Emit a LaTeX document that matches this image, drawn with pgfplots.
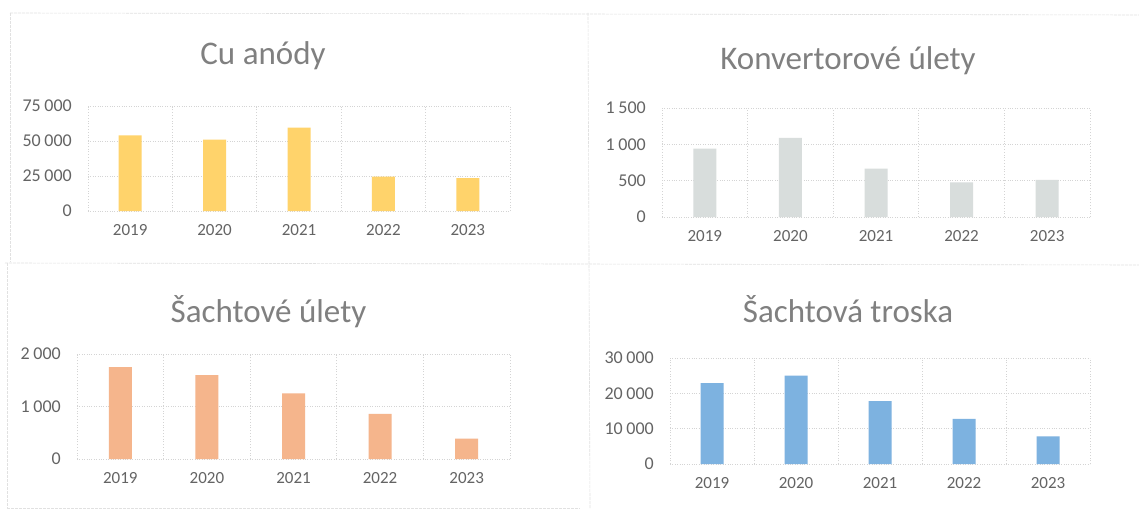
\documentclass[border=0pt]{standalone}
\usepackage{pgfplots}
\pgfplotsset{compat=1.18}
\usepackage{fontspec}
\setmainfont{Carlito}
\definecolor{cuy}{RGB}{255,211,107}
\definecolor{kgr}{RGB}{216,221,220}
\definecolor{sor}{RGB}{245,181,140}
\definecolor{tbl}{RGB}{125,178,224}
\definecolor{txt}{RGB}{100,100,100}
\definecolor{ttl}{RGB}{128,128,128}
\definecolor{grd}{RGB}{212,212,212}
\pgfplotsset{
  panel/.style={
    scale only axis,
    xmin=-0.5, xmax=4.5,
    ymin=0,
    xtick={0,1,2,3,4},
    xticklabels={2019,2020,2021,2022,2023},
    minor xtick={-0.5,0.5,1.5,2.5,3.5,4.5},
    xminorgrids=true, ymajorgrids=true,
    grid style={grd, dotted, line width=0.8pt},
    minor grid style={grd, dotted, line width=0.8pt},
    major tick length=0pt, minor tick length=0pt,
    axis line style={draw=none},
    xticklabel style={font=\fontsize{17}{20}\selectfont, text=txt},
    yticklabel style={font=\fontsize{18}{21}\selectfont, text=txt},
    /pgf/number format/.cd, 1000 sep={\hspace{0.2em}}, assume math mode=true,
    /pgfplots/.cd,
    scaled y ticks=false,
    xticklabel style={anchor=base, inner sep=0pt, yshift=-24pt},
    yticklabel style={anchor=east, inner sep=0pt, xshift=-16pt},
    title style={font=\fontsize{33}{38}\selectfont, text=ttl, anchor=base, at={(0.5,1)}},
    clip=false,
  }
}
\begin{document}
\begin{tikzpicture}[x=1pt,y=1pt]
\path[use as bounding box, fill=white] (0,0) rectangle (1139,512);
% panel borders
\draw[grd!70, line width=0.6pt, dash pattern=on 3pt off 1pt] (10,499) -- (1139,497);
\draw[grd!70, line width=0.6pt, dash pattern=on 3pt off 1pt] (10,499) -- (10,250);
\draw[grd!70, line width=0.6pt, dash pattern=on 3pt off 1pt] (588,499) -- (590,4);
\draw[grd!70, line width=0.6pt, dash pattern=on 3pt off 1pt] (5,249) -- (1139,247);
\draw[grd!70, line width=0.6pt, dash pattern=on 3pt off 1pt] (7,249) -- (7,4);
\draw[grd!70, line width=0.6pt, dash pattern=on 3pt off 1pt] (7,4) -- (580,4);

% Cu anody
\begin{axis}[panel, at={(88pt,301pt)}, anchor=south west, width=422pt, height=105pt,
  ymax=75000, ytick={0,25000,50000,75000},
  title={Cu anódy}, title style={yshift=35pt, xshift=-36pt}]
\addplot[ybar, bar width=23pt, fill=cuy, draw=none] coordinates {(0,54000) (1,51000) (2,59500) (3,24500) (4,23500)};
\end{axis}

% Konvertorove ulety
\begin{axis}[panel, at={(662pt,295pt)}, anchor=south west, width=428pt, height=109pt,
  ymax=1500, ytick={0,500,1000,1500},
  title={Konvertorové úlety}, title style={yshift=32pt, xshift=-28pt}]
\addplot[ybar, bar width=23pt, fill=kgr, draw=none] coordinates {(0,940) (1,1090) (2,665) (3,475) (4,510)};
\end{axis}

% Sachtove ulety
\begin{axis}[panel, at={(77pt,53pt)}, anchor=south west, width=433pt, height=105pt,
  ymax=2000, ytick={0,1000,2000},
  title={Šachtové úlety}, title style={yshift=26pt, xshift=-25pt}]
\addplot[ybar, bar width=23pt, fill=sor, draw=none] coordinates {(0,1750) (1,1600) (2,1250) (3,860) (4,390)};
\end{axis}

% Sachtova troska
\begin{axis}[panel, at={(670pt,48pt)}, anchor=south west, width=420pt, height=106pt,
  ymax=30000, ytick={0,10000,20000,30000},
  title={Šachtová troska}, title style={yshift=30pt, xshift=-32pt}]
\addplot[ybar, bar width=23pt, fill=tbl, draw=none] coordinates {(0,22900) (1,25000) (2,17800) (3,12800) (4,7800)};
\end{axis}
\end{tikzpicture}
\end{document}
